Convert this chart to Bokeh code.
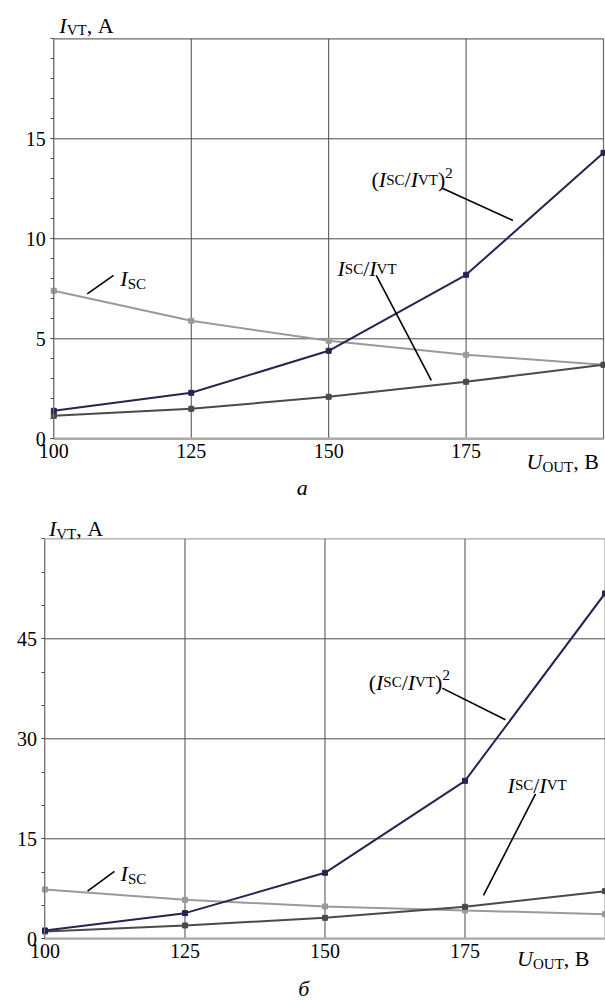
from bokeh.plotting import figure
from bokeh.models import Range1d, FixedTicker, Label
from bokeh.layouts import column
from bokeh.embed import file_html
from bokeh.resources import INLINE

# Output voltage, V
u_out = [100, 125, 150, 175, 200]

# Panel а
i_sc_a = [7.4, 5.9, 4.9, 4.2, 3.7]
ratio_a = [1.15, 1.5, 2.1, 2.85, 3.7]
ratio_sq_a = [1.4, 2.3, 4.4, 8.2, 14.3]

# Panel б
i_sc_b = [7.4, 5.85, 4.85, 4.25, 3.7]
ratio_b = [1.1, 2.0, 3.15, 4.8, 7.15]
ratio_sq_b = [1.25, 3.85, 9.9, 23.7, 51.8]

x_ticks = [100, 125, 150, 175]
y_ticks_a = [0, 5, 10, 15]
y_minor_a = list(range(0, 21))
y_ticks_b = [0, 15, 30, 45]
y_minor_b = list(range(0, 61, 5))

FONT = "Liberation Serif"
C_SC = "#9a9a9a"
C_RATIO = "#4a4a4a"
C_SQ = "#25254f"
C_GRID = "#4a4a4a"

MAIN = 22
SUB = 15

# Times-compatible advance widths (per 1000 em)
WIDTH = {
    "I": 333, "S": 556, "C": 667, "V": 722, "T": 611, "O": 722, "U": 722,
    "В": 667, "А": 722, "/": 278, "(": 333, ")": 333, ",": 250, " ": 250,
    "2": 500, "а": 500, "б": 500,
}


def text_width(s, size):
    return sum(WIDTH.get(ch, 500) for ch in s) * size / 1000.0


def add_text(p, x, y, txt, size, italic=False, x_off=0.0, y_off=0.0, align="left"):
    p.add_layout(Label(
        x=x, y=y, x_offset=x_off, y_offset=y_off, text=txt,
        text_font=FONT, text_font_size=f"{size}px",
        text_font_style="italic" if italic else "normal",
        text_color="black", text_align=align, text_baseline="alphabetic",
    ))


def rich(p, x, y, parts):
    """Place a run of text pieces (text, size, italic, dy) starting at (x, y)."""
    off = 0.0
    for txt, size, italic, dy in parts:
        add_text(p, x, y, txt, size, italic, off, dy)
        off += text_width(txt, size)
    return off


def ratio_parts():
    return [("I", MAIN, True, 0), ("SC", SUB, False, 0), ("/", MAIN, False, 0),
            ("I", MAIN, True, 0), ("VT", SUB, False, 0)]


def make_panel(i_sc, ratio, ratio_sq, y_max, y_ticks, y_minor, x_view, y_view,
               outline_color, caption, pos):
    # The frame fills the whole canvas; the axes sit at fixed data locations so
    # that titles and captions around the plotting area stay visible.
    p = figure(width=605, height=500, output_backend="svg", toolbar_location=None,
               x_range=Range1d(*x_view), y_range=Range1d(*y_view),
               min_border=0, min_border_left=0, min_border_right=0,
               min_border_top=0, min_border_bottom=0)
    p.background_fill_color = "white"
    p.border_fill_color = "white"
    p.outline_line_color = None
    p.xgrid.visible = False
    p.ygrid.visible = False

    x0, x1 = u_out[0], u_out[-1]

    # plotting area border
    p.quad(left=[x0], right=[x1], bottom=[0], top=[y_max], fill_color=None,
           line_color=outline_color, line_width=1.2)
    # grid lines at the major ticks
    p.segment(x0=x_ticks[1:], x1=x_ticks[1:], y0=0, y1=y_max,
              line_color=C_GRID, line_width=1)
    p.segment(x0=x0, x1=x1, y0=y_ticks[1:], y1=y_ticks[1:],
              line_color=C_GRID, line_width=1)

    p.xaxis.fixed_location = 0
    p.yaxis.fixed_location = x0
    p.xaxis.bounds = (x0, x1)
    p.yaxis.bounds = (0, y_max)
    p.xaxis.ticker = FixedTicker(ticks=x_ticks)
    p.yaxis.ticker = FixedTicker(ticks=y_ticks, minor_ticks=y_minor)
    for ax in (p.xaxis, p.yaxis):
        ax.major_label_text_font = FONT
        ax.major_label_text_font_size = "20px"
        ax.major_label_text_color = "black"
        ax.major_tick_in = 0
        ax.minor_tick_in = 0
    p.xaxis.axis_line_color = "#a8a8a8"
    p.xaxis.axis_line_width = 2
    p.xaxis.major_tick_out = 0
    p.xaxis.minor_tick_line_color = None
    p.xaxis.major_label_standoff = 5
    p.yaxis.axis_line_color = "#777777"
    p.yaxis.major_tick_out = 3
    p.yaxis.minor_tick_out = 3
    p.yaxis.major_tick_line_color = C_GRID
    p.yaxis.minor_tick_line_color = C_GRID
    p.yaxis.major_label_standoff = 5

    series = [(i_sc, C_SC), (ratio, C_RATIO), (ratio_sq, C_SQ)]
    for vals, col in series:
        p.line(u_out, vals, line_color=col, line_width=2)
        p.scatter(u_out, vals, marker="square", size=5, fill_color=col, line_color=col)

    # leader lines from the curve labels
    p.segment(x0=pos["lead_x0"], y0=pos["lead_y0"], x1=pos["lead_x1"], y1=pos["lead_y1"],
              line_color="black", line_width=1.6)

    # curve labels
    sq = [("(", MAIN, False, 0)] + ratio_parts() + [(")", MAIN, False, 0)]
    off = rich(p, pos["sq_x"], pos["sq_y"], sq)
    add_text(p, pos["sq_x"], pos["sq_y"], "2", SUB, False, off, 7)
    rich(p, pos["r_x"], pos["r_y"], ratio_parts())
    rich(p, pos["sc_x"], pos["sc_y"], [("I", MAIN, True, 0), ("SC", SUB, False, -5)])

    # axis titles and panel caption
    rich(p, pos["yt_x"], pos["yt_y"], [("I", MAIN, True, 0), ("VT", SUB, False, -5),
                                       (", А", MAIN, False, 0)])
    rich(p, pos["xt_x"], pos["xt_y"], [("U", MAIN, True, 0), ("OUT", SUB, False, -5),
                                       (", В", MAIN, False, 0)])
    add_text(p, pos["cap_x"], pos["cap_y"], caption, MAIN, True, align="center")
    return p


pos_a = dict(
    lead_x0=[170.67, 158.66, 110.86], lead_y0=[12.53, 8.17, 8.17],
    lead_x1=[183.52, 168.67, 106.08], lead_y1=[10.92, 2.92, 7.25],
    sq_x=157.8, sq_y=12.95, r_x=151.6, r_y=8.5, sc_x=112.1, sc_y=8.0,
    yt_x=101.0, yt_y=20.67, xt_x=186.0, xt_y=-1.15, cap_x=145.2, cap_y=-2.45,
)
pos_b = dict(
    lead_x0=[170.93, 187.6, 112.4], lead_y0=[37.6, 21.75, 10.1],
    lead_x1=[182.23, 178.3, 107.6], lead_y1=[32.85, 6.5, 7.14],
    sq_x=157.8, sq_y=38.45, r_x=182.6, r_y=23.0, sc_x=113.5, sc_y=9.75,
    yt_x=100.7, yt_y=61.5, xt_x=184.3, xt_y=-3.0, cap_x=146.2, cap_y=-7.4,
)

p1 = make_panel(i_sc_a, ratio_a, ratio_sq_a, 20, y_ticks_a, y_minor_a,
                (90.30, 200.36), (-3.085, 21.915), "#6a6a6a", "а", pos_a)
p2 = make_panel(i_sc_b, ratio_b, ratio_sq_b, 60, y_ticks_b, y_minor_b,
                (92.054, 200.089), (-9.255, 65.745), "#a8a8a8", "б", pos_b)

layout = column(p1, p2, spacing=0)
open("out.html", "w").write(file_html(layout, INLINE))
